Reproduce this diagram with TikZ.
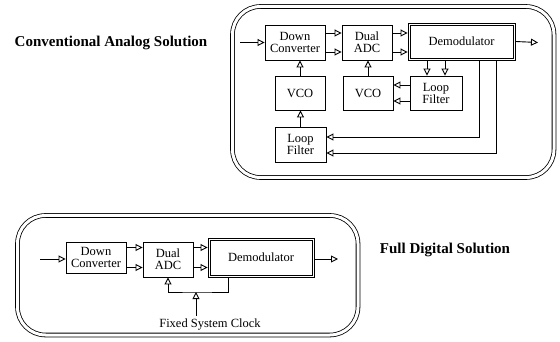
\documentclass[tikz,border=0pt]{standalone}
\usepackage{fontspec}
\setmainfont{Liberation Serif}
\usepackage{tikz}
\usetikzlibrary{arrows.meta,positioning,calc}

\begin{document}
\begin{tikzpicture}[x=1pt,y=-1pt,line width=0.9pt,
    >={Triangle[open,length=7pt,width=7pt]},
    font=\fontsize{12.5}{12}\selectfont,
    blk/.style={draw,inner sep=1pt,align=center},
    frame/.style={draw,double,double distance=3pt,line width=0.8pt,rounded corners=28pt},
    ttl/.style={font=\fontsize{15}{15}\selectfont\bfseries}]
  \useasboundingbox (0,0) rectangle (560,342);

  % conventional analog solution
  \draw[frame] (232.5,6.5) rectangle (554,177.5);
  \node[ttl] (t1) at (111,43) {Conventional Analog Solution};
  \node[blk,minimum width=60pt,minimum height=35pt] (dc1) at (295,42.5) {Down\\Converter};
  \node[blk,minimum width=50pt,minimum height=35pt] (adc1) at (367,42.5) {Dual\\ADC};
  \node[blk,minimum width=107pt,minimum height=37pt] (dem1) at (461.5,41.5) {Demodulator};
  \draw[line width=0.7pt] ([shift={(2.5pt,-2.5pt)}]dem1.north west) rectangle ([shift={(-2.5pt,2.5pt)}]dem1.south east);
  \node[blk,minimum width=50pt,minimum height=34pt] (vcoA) at (300,93) {VCO};
  \node[blk,minimum width=50pt,minimum height=34pt] (vcoB) at (368,93) {VCO};
  \node[blk,minimum width=52pt,minimum height=34pt] (lfB) at (436,93) {Loop\\Filter};
  \node[blk,minimum width=51pt,minimum height=35pt] (lfA) at (300.5,144.5) {Loop\\Filter};
  \coordinate (in1) at (240,42.5);
  \coordinate (out1) at (538,42.5);

  \draw[->] (in1) -- (dc1.west);
  \foreach \s in {9.5,-9.5} {
    \draw[->] ([yshift=\s pt]dc1.east) -- ([yshift=\s pt]dc1.east -| adc1.west);
    \draw[->] ([yshift=\s pt]adc1.east) -- ([yshift=\s pt]adc1.east -| dem1.west);
  }
  \draw[->] (dem1.east) -- (out1);
  \foreach \s in {-34.5,-16.5}
    \draw[->] ([xshift=\s pt]dem1.south) -- ([xshift=\s pt]dem1.south |- lfB.north);
  \foreach \s in {8,-8}
    \draw[->] ([yshift=\s pt]lfB.west) -- ([yshift=\s pt]lfB.west -| vcoB.east);
  \draw[->] (vcoA.north) -- (vcoA.north |- dc1.south);
  \draw[->] (vcoB.north) -- (vcoB.north |- adc1.south);
  \draw[->] (lfA.north) -- (lfA.north |- vcoA.south);
  \draw[->] ([xshift=17.5pt]dem1.south) |- ([yshift=7.5pt]lfA.east);
  \draw[->] ([xshift=34.5pt]dem1.south) |- ([yshift=-8.5pt]lfA.east);

  % full digital solution
  \draw[frame] (17.5,215.5) rectangle (358,335);
  \node[ttl] (t2) at (445,250) {Full Digital Solution};
  \node[blk,minimum width=60pt,minimum height=31pt] (dc2) at (96,257.5) {Down\\Converter};
  \node[blk,minimum width=50pt,minimum height=35pt] (adc2) at (168,259.5) {Dual\\ADC};
  \node[blk,minimum width=106pt,minimum height=39pt] (dem2) at (261,257.5) {Demodulator};
  \draw[line width=0.7pt] ([shift={(2.5pt,-2.5pt)}]dem2.north west) rectangle ([shift={(-2.5pt,2.5pt)}]dem2.south east);
  \node (fsc) at (210,325) {Fixed System Clock};
  \coordinate (in2) at (40,259);
  \coordinate (out2) at (338,259);
  \coordinate (jn) at (196,292);

  \draw[->] (in2) -- (dc2.west |- in2);
  \foreach \s in {10,-10} {
    \draw[->] ([yshift=\s pt]dc2.east) -- ([yshift=\s pt]dc2.east -| adc2.west);
    \draw[->] ([yshift=\s pt]dc2.east -| adc2.east) -- ([yshift=\s pt]dc2.east -| dem2.west);
  }
  \draw[->] (dem2.east |- out2) -- (out2);
  \draw[->] ([xshift=-32.5pt]dem2.south) |- (jn) -| (adc2.south);
  \draw[->] (fsc.north -| jn) -- (jn);
\end{tikzpicture}
\end{document}
